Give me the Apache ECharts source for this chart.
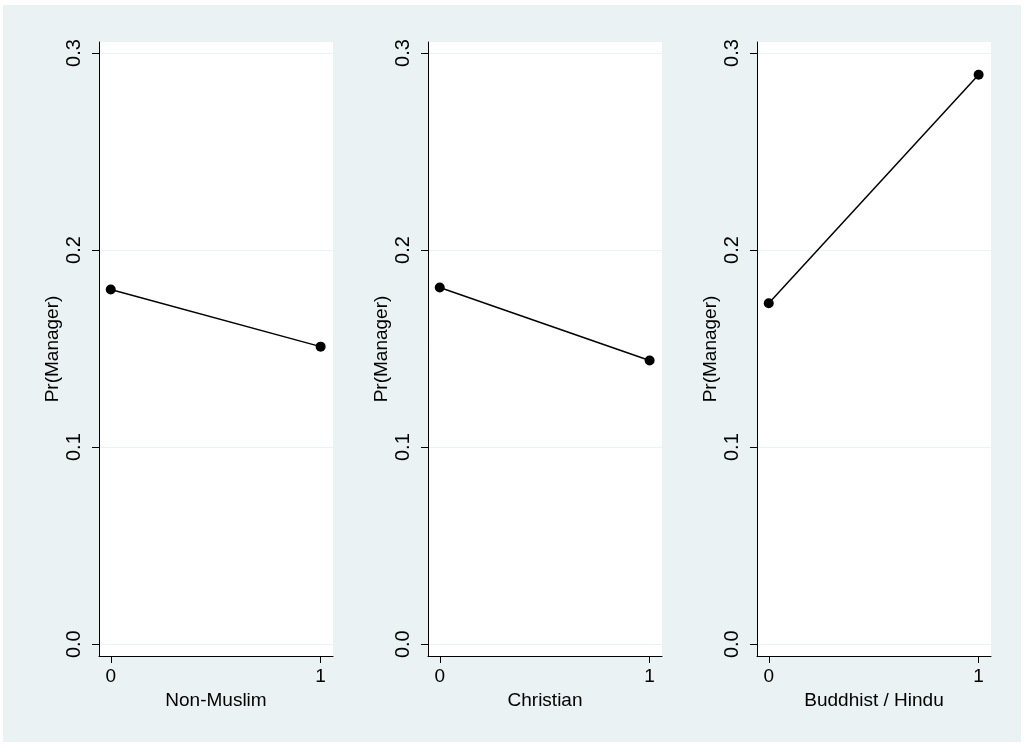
<!DOCTYPE html>
<html>
<head>
<meta charset="UTF-8">
<title>Pr(Manager)</title>
<script src="https://cdn.jsdelivr.net/npm/echarts@6/dist/echarts.min.js"></script>
<style>
    body { margin: 0; background: #fff; }
    #main {
        position: absolute;
        left: 3px;
        top: 5px;
        width: 1018px;
        height: 737px;
    }
</style>
</head>
<body>
<div id="main"></div>
<script>
    // values
    var xTicks = [0, 1];
    var yTicks = [0, 0.1, 0.2, 0.3];
    var xTitles = ['Non-Muslim', 'Christian', 'Buddhist / Hindu'];
    var nonMuslim = [0.180, 0.151];
    var christian = [0.181, 0.144];
    var buddhistHindu = [0.173, 0.289];
    var panels = [nonMuslim, christian, buddhistHindu];

    var myChart = echarts.init(document.getElementById('main'));
    var font = 'Liberation Sans, Arial, Helvetica, sans-serif';
    var lefts = [96, 425, 754];

    var grids = [], xAxes = [], yAxes = [], series = [];
    for (var i = 0; i < 3; i++) {
        grids.push({
            left: lefts[i], top: 37, width: 234, height: 614,
            show: true, backgroundColor: '#ffffff', borderWidth: 0
        });
        xAxes.push({
            gridIndex: i,
            type: 'value',
            min: -0.056, max: 1.059,
            name: xTitles[i],
            nameLocation: 'middle',
            nameGap: 31,
            nameTextStyle: { fontSize: 19, color: '#000', fontFamily: font },
            axisLine: { onZero: false, lineStyle: { color: '#000', width: 1 } },
            axisTick: { show: true, length: 7, customValues: xTicks, lineStyle: { color: '#000' } },
            axisLabel: { customValues: xTicks, margin: 11, fontSize: 19, color: '#000', fontFamily: font },
            splitLine: { show: false }
        });
        yAxes.push({
            gridIndex: i,
            type: 'value',
            min: -0.006, max: 0.3056,
            name: 'Pr(Manager)',
            nameLocation: 'middle',
            nameGap: 37,
            nameTextStyle: { fontSize: 19, color: '#000', fontFamily: font },
            axisLine: { show: true, onZero: false, lineStyle: { color: '#000', width: 1 } },
            axisTick: { show: true, length: 7, customValues: yTicks, lineStyle: { color: '#000' } },
            axisLabel: {
                customValues: yTicks, rotate: 90, margin: 15,
                fontSize: 20, color: '#000', fontFamily: font,
                formatter: function (v) { return v.toFixed(1); }
            },
            splitLine: { show: true, lineStyle: { color: '#eaf2f3', width: 1 } }
        });
        series.push({
            type: 'line',
            xAxisIndex: i,
            yAxisIndex: i,
            data: xTicks.map(function (x, j) { return [x, panels[i][j]]; }),
            symbol: 'circle',
            symbolSize: 10,
            lineStyle: { color: '#000', width: 1.5 },
            itemStyle: { color: '#000' },
            silent: true
        });
    }

    myChart.setOption({
        backgroundColor: '#eaf2f3',
        animation: false,
        grid: grids,
        xAxis: xAxes,
        yAxis: yAxes,
        series: series
    });
</script>
</body>
</html>
